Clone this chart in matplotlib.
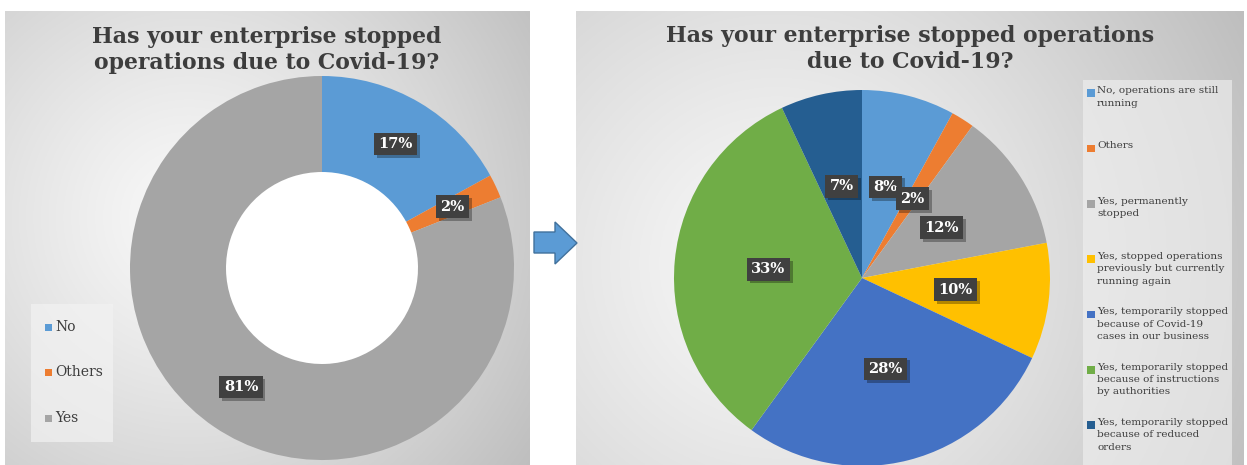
import numpy as np
import matplotlib
matplotlib.use("Agg")
import matplotlib.pyplot as plt
import matplotlib.patheffects as pe
from matplotlib.patches import Polygon

# data
left_labels = ["No", "Others", "Yes"]
left_values = [17, 2, 81]
left_colors = ["#5B9BD5", "#ED7D31", "#A5A5A5"]

right_labels = ["No, operations are still\nrunning",
                "Others",
                "Yes, permanently\nstopped",
                "Yes, stopped operations\npreviously but currently\nrunning again",
                "Yes, temporarily stopped\nbecause of Covid-19\ncases in our business",
                "Yes, temporarily stopped\nbecause of instructions\nby authorities",
                "Yes, temporarily stopped\nbecause of reduced\norders"]
right_values = [8, 2, 12, 10, 28, 33, 7]
right_colors = ["#5B9BD5", "#ED7D31", "#A5A5A5", "#FFC000", "#4472C4", "#70AD47", "#255E91"]

title = "Has your enterprise stopped\noperations due to Covid-19?"
title2 = "Has your enterprise stopped operations\ndue to Covid-19?"

W, H = 1247, 465
fig = plt.figure(figsize=(W / 100, H / 100), dpi=100)
fig.patch.set_facecolor("white")
serif = "DejaVu Serif"
txt_col = "#3d3d3d"


def px(x, y, w, h):
    # pixel box (top-left origin) -> figure fraction
    return [x / W, (H - y - h) / H, w / W, h / H]


def panel(x, y, w, h, cx, cy):
    ax = fig.add_axes(px(x, y, w, h))
    xx, yy = np.meshgrid(np.linspace(0, 1, 300), np.linspace(0, 1, 300))
    d = np.sqrt(((xx - cx) * w / h) ** 2 + (yy - cy) ** 2)
    d = np.clip(d / d.max(), 0, 1)
    g = 0.975 - 0.23 * d ** 1.2
    ax.imshow(np.dstack([g, g, g]), extent=[0, 1, 0, 1], aspect="auto", origin="upper")
    ax.set_xlim(0, 1)
    ax.set_ylim(0, 1)
    ax.axis("off")
    return ax


def label_box(ax, x, y, s):
    t = ax.text(x, y, s, ha="center", va="center", color="white", fontsize=10.5,
                fontweight="bold", family=serif,
                bbox=dict(boxstyle="square,pad=0.3", fc="#404040", ec="none"))
    t.get_bbox_patch().set_path_effects([pe.withSimplePatchShadow(offset=(2, -2), shadow_rgbFace="black", alpha=0.3)])


# panels
panel(5, 11, 525, 460, 0.35, 0.45)
panel(576, 11, 668, 460, 0.3, 0.55)

# left donut
ax1 = fig.add_axes(px(322 - 192, 268 - 192, 384, 384))
wedges, _ = ax1.pie(left_values, colors=left_colors, startangle=90, counterclock=False,
                    radius=1, wedgeprops=dict(width=0.5, edgecolor="none"))
ax1.add_patch(plt.Circle((0, 0), 0.5, color="white", zorder=0))
ax1.set_xlim(-1, 1)
ax1.set_ylim(-1, 1)
ax1.axis("off")
for w_, v in zip(wedges, left_values):
    a = np.deg2rad((w_.theta1 + w_.theta2) / 2)
    label_box(ax1, 0.75 * np.cos(a), 0.75 * np.sin(a), f"{v}%")

fig.text(267 / W, 1 - 50 / H, title, ha="center", va="center", fontsize=15.8,
         fontweight="bold", family=serif, color=txt_col, linespacing=1.25)

# left legend
fig.patches.append(plt.Rectangle((31 / W, 1 - 442 / H), 82 / W, 138 / H, transform=fig.transFigure,
                                 fc="#f2f2f2", ec="none", alpha=0.7))
for i, (lab, c) in enumerate(zip(left_labels, left_colors)):
    y = 327 + 45.5 * i
    fig.patches.append(plt.Rectangle((45 / W, 1 - (y + 3.5) / H), 7 / W, 7 / H,
                                     transform=fig.transFigure, fc=c, ec="none"))
    fig.text(55 / W, 1 - y / H, lab, ha="left", va="center", fontsize=10,
             family=serif, color=txt_col)

# arrow
arrow_px = [(534, 232), (555, 232), (555, 222), (577, 243), (555, 264), (555, 253), (534, 253)]
fig.patches.append(Polygon([(x / W, 1 - y / H) for x, y in arrow_px], closed=True,
                           transform=fig.transFigure, fc="#5B9BD5", ec="#41719C", lw=1))

# right pie
ax2 = fig.add_axes(px(862 - 188, 278 - 188, 376, 376))
wedges2, _ = ax2.pie(right_values, colors=right_colors, startangle=90, counterclock=False,
                     radius=1, wedgeprops=dict(edgecolor="none"))
ax2.set_xlim(-1, 1)
ax2.set_ylim(-1, 1)
ax2.axis("off")
for w_, v in zip(wedges2, right_values):
    a = np.deg2rad((w_.theta1 + w_.theta2) / 2)
    label_box(ax2, 0.5 * np.cos(a), 0.5 * np.sin(a), f"{v}%")

fig.text(910 / W, 1 - 49 / H, title2, ha="center", va="center", fontsize=15.8,
         fontweight="bold", family=serif, color=txt_col, linespacing=1.2)

# right legend
fig.patches.append(plt.Rectangle((1083 / W, 0), 149 / W, (H - 80) / H, transform=fig.transFigure,
                                 fc="#f2f2f2", ec="none", alpha=0.6))
for i, (lab, c) in enumerate(zip(right_labels, right_colors)):
    y = 93 + 55.3 * i
    fig.patches.append(plt.Rectangle((1087 / W, 1 - (y + 4) / H), 7.5 / W, 7.5 / H,
                                     transform=fig.transFigure, fc=c, ec="none"))
    fig.text(1097 / W, 1 - (y - 7) / H, lab, ha="left", va="top", fontsize=7.5,
             family=serif, color=txt_col, linespacing=1.5)

fig.savefig("out.png", dpi=100)
